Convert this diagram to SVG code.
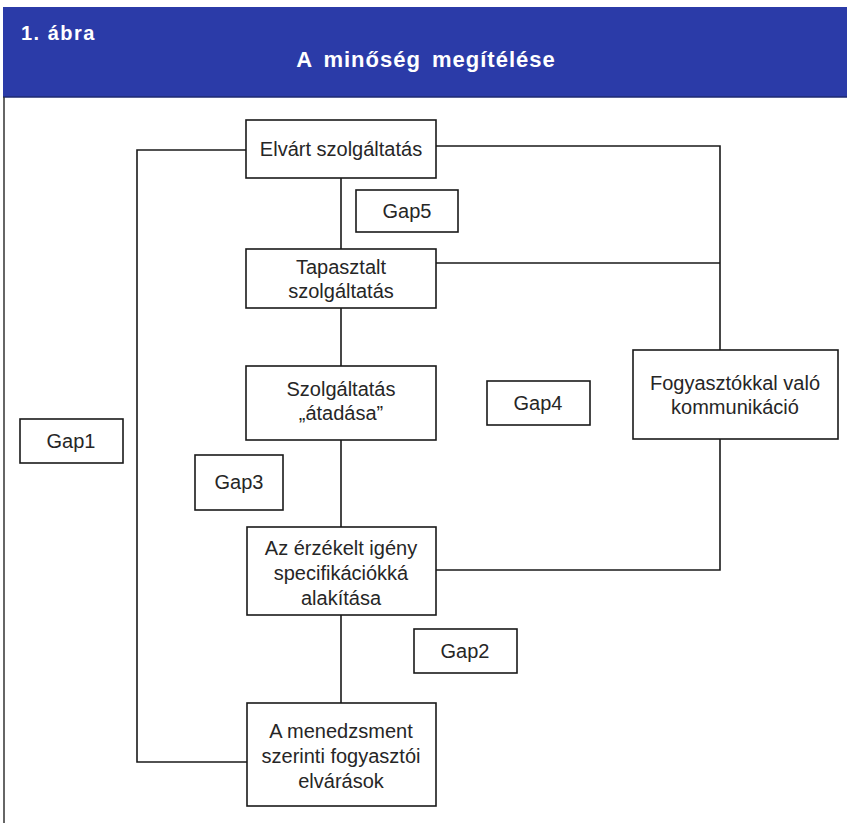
<svg xmlns="http://www.w3.org/2000/svg" width="847" height="823" viewBox="0 0 847 823">
<style>
.box{fill:#fff;stroke:#1a1a1a;stroke-width:1.6}
.t{font-family:"Liberation Sans",Arial,sans-serif;font-size:20px;fill:#262626;text-anchor:middle}
.h{font-family:"Liberation Sans",Arial,sans-serif;font-weight:bold;fill:#fff}
.c{fill:none;stroke:#1a1a1a;stroke-width:1.6}
</style>
<rect width="847" height="823" fill="#fff"/>
<g id="header">
<rect x="3" y="7" width="844" height="90" fill="#2b3ba8"/>
<line x1="3" y1="97" x2="847" y2="97" stroke="#1e2a70" stroke-width="1.5"/>
<text class="h" x="21" y="40" font-size="20" letter-spacing="1.5">1. ábra</text>
<text class="h" x="426" y="67" font-size="22" letter-spacing="1" word-spacing="4" text-anchor="middle">A minőség megítélése</text>
</g>
<line x1="4" y1="97" x2="4" y2="823" stroke="#333" stroke-width="1.5"/>
<g id="connectors">
<path class="c" d="M341 178V249M341 308V366M341 440V527M341 615V703"/>
<path class="c" d="M246 150H137V762H247"/>
<path class="c" d="M436 146H720V350M436 263H720M720 439V570H436"/>
</g>
<g id="elvart"><rect class="box" x="246" y="120" width="190" height="58"/><text class="t" x="341" y="156">Elvárt szolgáltatás</text></g>
<g id="gap5"><rect class="box" x="356" y="190" width="102" height="42"/><text class="t" x="407" y="218">Gap5</text></g>
<g id="tapasztalt"><rect class="box" x="246" y="249" width="190" height="59"/><text class="t" x="341" y="274">Tapasztalt</text><text class="t" x="341" y="298">szolgáltatás</text></g>
<g id="atadasa"><rect class="box" x="246" y="366" width="190" height="74"/><text class="t" x="341" y="396">Szolgáltatás</text><text class="t" x="341" y="420">„átadása”</text></g>
<g id="gap4"><rect class="box" x="487" y="381" width="103" height="44"/><text class="t" x="538" y="410">Gap4</text></g>
<g id="kommunikacio"><rect class="box" x="633" y="350" width="205" height="89"/><text class="t" x="735" y="390">Fogyasztókkal való</text><text class="t" x="735" y="414">kommunikáció</text></g>
<g id="gap1"><rect class="box" x="20" y="419" width="103" height="44"/><text class="t" x="71" y="448">Gap1</text></g>
<g id="gap3"><rect class="box" x="195" y="455" width="88" height="55"/><text class="t" x="239" y="489">Gap3</text></g>
<g id="specifikacio"><rect class="box" x="247" y="527" width="189" height="88"/><text class="t" x="341" y="555">Az érzékelt igény</text><text class="t" x="341" y="580">specifikációkká</text><text class="t" x="341" y="605">alakítása</text></g>
<g id="gap2"><rect class="box" x="414" y="629" width="103" height="44"/><text class="t" x="465" y="658">Gap2</text></g>
<g id="menedzsment"><rect class="box" x="247" y="703" width="189" height="103"/><text class="t" x="341" y="738">A menedzsment</text><text class="t" x="341" y="763">szerinti fogyasztói</text><text class="t" x="341" y="788">elvárások</text></g>
</svg>
